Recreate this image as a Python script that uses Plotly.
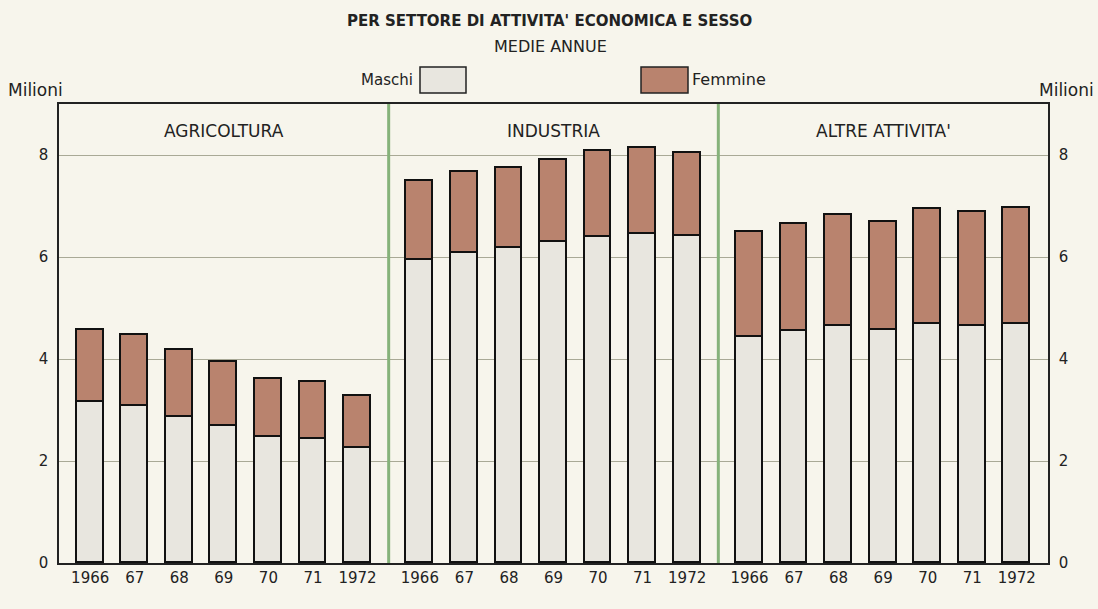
import plotly.graph_objects as go

sectors = ["AGRICOLTURA", "INDUSTRIA", "ALTRE ATTIVITA'"]
year_labels = ["1966", "67", "68", "69", "70", "71", "1972"]

maschi_agricoltura = [3.15, 3.08, 2.86, 2.69, 2.48, 2.43, 2.26]
totale_agricoltura = [4.57, 4.48, 4.17, 3.95, 3.61, 3.55, 3.27]
maschi_industria = [5.95, 6.08, 6.18, 6.29, 6.39, 6.46, 6.42]
totale_industria = [7.50, 7.66, 7.75, 7.91, 8.07, 8.13, 8.03]
maschi_altre = [4.43, 4.55, 4.65, 4.56, 4.69, 4.65, 4.69]
totale_altre = [6.49, 6.65, 6.82, 6.69, 6.94, 6.89, 6.97]

y_ticks = [0, 2, 4, 6, 8]

maschi = maschi_agricoltura + maschi_industria + maschi_altre
totale = totale_agricoltura + totale_industria + totale_altre
femmine = [round(t - m, 3) for t, m in zip(totale, maschi)]

GROUP_W = 7.4
PAD = 0.7
xpos = []
for g in range(len(sectors)):
    for i in range(len(year_labels)):
        xpos.append(g * GROUP_W + PAD + i)
xlabels = year_labels * len(sectors)

BG = "#f7f5ec"
MALE = "#e8e6df"
FEMALE = "#b9836e"
GREEN = "#86b27a"
GRID = "#a9a996"
FONT = "DejaVu Sans, Arial, sans-serif"
TXT = "#222"

fig = go.Figure()
fig.add_bar(x=xpos, y=maschi, name="Maschi", width=0.6,
            marker=dict(color=MALE, line=dict(color="#111", width=1.6)),
            showlegend=False)
fig.add_bar(x=xpos, y=femmine, name="Femmine", width=0.6,
            marker=dict(color=FEMALE, line=dict(color="#111", width=1.6)),
            showlegend=False)
# invisible trace to enable right axis
fig.add_scatter(x=[xpos[0]], y=[0], yaxis="y2", mode="markers",
                marker=dict(opacity=0), showlegend=False, hoverinfo="skip")

# plot area in pixels: x 59..1048, y 104..563
def px(xp):
    return (xp - 59) / (1048 - 59)
def py(yp):
    return (563 - yp) / (563 - 104)

shapes = []
for g in range(1, len(sectors)):
    shapes.append(dict(type="line", xref="x", yref="paper", x0=g * GROUP_W, x1=g * GROUP_W,
                       y0=0, y1=1, line=dict(color=GREEN, width=3), layer="above"))
# legend swatches
shapes.append(dict(type="rect", xref="paper", yref="paper", x0=px(420), x1=px(466),
                   y0=py(93), y1=py(67), fillcolor=MALE, line=dict(color="#222", width=1.5)))
shapes.append(dict(type="rect", xref="paper", yref="paper", x0=px(641), x1=px(688),
                   y0=py(93), y1=py(67), fillcolor=FEMALE, line=dict(color="#222", width=1.5)))

annotations = []
for g, s in enumerate(sectors):
    annotations.append(dict(x=g * GROUP_W + GROUP_W / 2, y=8.48, xref="x", yref="y",
                            text=s, showarrow=False,
                            font=dict(size=17, color=TXT, family=FONT)))

texts = [
    ("<b>PER SETTORE DI ATTIVITA' ECONOMICA E SESSO</b>", 549, 21, "center", 15),
    ("MEDIE ANNUE", 550, 46, "center", 16),
    ("Maschi", 415, 80, "right", 15),
    ("Femmine", 690, 80, "left", 16),
    ("Milioni", 6, 90, "left", 17),
    ("Milioni", 1096, 90, "right", 17),
]
for t, xp, yp, anc, sz in texts:
    annotations.append(dict(text=t, x=px(xp), y=py(yp), xref="paper", yref="paper",
                            xanchor=anc, yanchor="middle", showarrow=False,
                            font=dict(size=sz, color=TXT, family=FONT)))

fig.update_layout(
    width=1098, height=609,
    margin=dict(l=59, r=50, t=104, b=46),
    paper_bgcolor=BG, plot_bgcolor=BG,
    barmode="stack", bargap=0,
    shapes=shapes, annotations=annotations,
    font=dict(family=FONT, color=TXT),
    xaxis=dict(range=[0, GROUP_W * len(sectors)], tickvals=xpos, ticktext=xlabels,
               showgrid=False, zeroline=False, showline=True, linecolor="#222", linewidth=1.5,
               mirror=True, ticks="", tickfont=dict(size=15, color=TXT), fixedrange=True),
    yaxis=dict(range=[0, 9], tickvals=y_ticks, showgrid=True, gridcolor=GRID, gridwidth=1.2,
               zeroline=False, showline=True, linecolor="#222", linewidth=1.5, ticks="",
               tickfont=dict(size=15, color=TXT), ticklabelstandoff=6),
    yaxis2=dict(range=[0, 9], tickvals=y_ticks, overlaying="y", side="right", showgrid=False,
                zeroline=False, showline=True, linecolor="#222", linewidth=1.5, ticks="",
                tickfont=dict(size=15, color=TXT), ticklabelstandoff=6),
)

fig.write_html("out.html", config={"displayModeBar": False},
               post_script="document.body.style.margin='0';document.body.style.background='%s';" % BG)
